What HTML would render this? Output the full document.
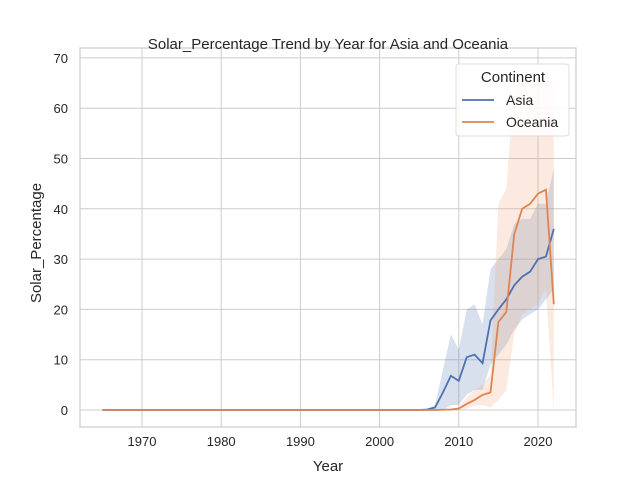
<!DOCTYPE html>
<html><head><meta charset="utf-8"><style>
body{margin:0;background:#fff;font-family:"Liberation Sans","DejaVu Sans",sans-serif}
svg text{font-family:"Liberation Sans","DejaVu Sans",sans-serif;fill:#262626}
</style></head><body>
<svg id="c" width="640" height="480"></svg>
<script>
const years=[];for(let y=1965;y<=2022;y++)years.push(y);
const xTicks=[1970,1980,1990,2000,2010,2020];
const yTicks=[0,10,20,30,40,50,60,70];
const asiaYears=[2006,2007,2008,2009,2010,2011,2012,2013,2014,2015,2016,2017,2018,2019,2020,2021,2022];
const asiaVals=[0.1,0.5,3.5,6.8,5.8,10.5,11,9.3,17.8,20,22,24.8,26.5,27.5,30,30.5,36];
const asiaHi=[0.2,1,8,15,12,20,21,17,28,30,32,37,38,38,41,41,48];
const asiaLo=[0,0,0,1,1,3,4,4,9,11,13,16,18,19,20,22,24];
const oceYears=[2008,2009,2010,2011,2012,2013,2014,2015,2016,2017,2018,2019,2020,2021,2022];
const oceVals=[0.05,0.1,0.3,1.2,2,3,3.5,17.5,19.5,35,40,41,43,43.8,21];
const oceHi=[0.1,0.2,0.6,2.5,4,5,7,41,44,65,65,65,65,65,65];
const oceLo=[0,0,0,0.3,0.8,1,0.5,2,4,15,19,20,21,24,0];
const X=v=>102.4+(v-1965)*7.92;
const Y=v=>410-v*5.03;
const s=document.getElementById('c');const NS='http://www.w3.org/2000/svg';
function mk(t,a,txt){const e=document.createElementNS(NS,t);for(const k in a)e.setAttribute(k,a[k]);if(txt!=null)e.textContent=txt;s.appendChild(e);return e;}
const defs=mk('clipPath',{id:'cp'});const cr=document.createElementNS(NS,'rect');
cr.setAttribute('x',80);cr.setAttribute('y',48);cr.setAttribute('width',496);cr.setAttribute('height',379);defs.appendChild(cr);
xTicks.forEach(t=>{const l=mk('line',{x1:X(t),x2:X(t),y1:48,y2:427,stroke:'#cccccc','stroke-width':1});

const tx=mk('text',{x:X(t),y:446,'font-size':13,'text-anchor':'middle'},t);
});
yTicks.forEach(t=>{const l=mk('line',{x1:80,x2:576,y1:Y(t),y2:Y(t),stroke:'#cccccc','stroke-width':1});

const tx=mk('text',{x:68,y:Y(t)+5,'font-size':13,'text-anchor':'end'},t);
});
function band(xs,hi,lo,col,name){let d='M'+xs.map((x,i)=>X(x)+','+Y(hi[i])).join('L');
for(let i=xs.length-1;i>=0;i--)d+='L'+X(xs[i])+','+Y(lo[i]);
const p=mk('path',{d:d+'Z',fill:col,'fill-opacity':0.22,'clip-path':'url(#cp)'});
}
function line(xs,vals,col,name){const full=years.filter(y=>y<xs[0]).map(y=>[y,0]).concat(xs.map((x,i)=>[x,vals[i]]));
const p=mk('path',{d:'M'+full.map(q=>X(q[0])+','+Y(q[1])).join('L'),fill:'none',stroke:col,'stroke-width':1.8,'clip-path':'url(#cp)'});
}
band(asiaYears,asiaHi,asiaLo,'#4c72b0','asia-ci-band');
band(oceYears,oceHi,oceLo,'#f0a070','oceania-ci-band');
line(asiaYears,asiaVals,'#4c72b0','asia-line');
line(oceYears,oceVals,'#dd8452','oceania-line');
const fr=mk('rect',{x:80,y:48,width:496,height:379,fill:'none',stroke:'#cccccc','stroke-width':1.2});

</script>
<svg style="position:absolute;left:0;top:0" width="640" height="480">
<text x="328" y="49" font-size="15" text-anchor="middle">Solar_Percentage Trend by Year for Asia and Oceania</text>
<text x="328" y="471" font-size="15" text-anchor="middle">Year</text>
<text x="0" y="0" font-size="15" text-anchor="middle" transform="translate(41,243) rotate(-90)">Solar_Percentage</text>
<g>
<rect x="456" y="64" width="113" height="72" rx="3" fill="#fff" fill-opacity="0.85" stroke="#dddddd"/>
<text x="513" y="82" font-size="15" text-anchor="middle">Continent</text>
<line x1="462" x2="494" y1="100" y2="100" stroke="#4c72b0" stroke-width="1.8"/>
<text x="506" y="105" font-size="14">Asia</text>
<line x1="462" x2="494" y1="122" y2="122" stroke="#dd8452" stroke-width="1.8"/>
<text x="506" y="127" font-size="14">Oceania</text>
</g>
</svg>
</body></html>
